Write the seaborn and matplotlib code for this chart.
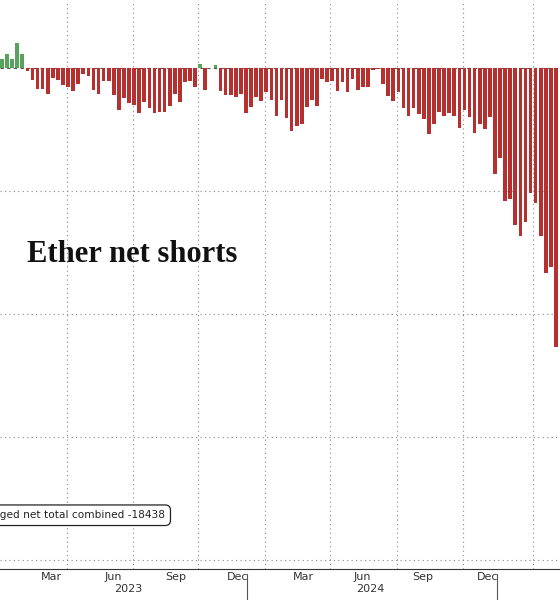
import numpy as np
import pandas as pd
import seaborn as sns
import matplotlib.pyplot as plt

# weekly leveraged net positions, thousands of contracts
values = [0.7, 1.1, 0.7, 2.0, 1.1,
          -0.3, -1.0, -1.7, -1.7, -2.1, -0.8, -1.0, -1.4, -1.6, -1.9,
          -1.3, -0.5, -0.7, -1.8, -2.1, -1.1, -1.1, -2.2, -3.4, -2.5,
          -2.9, -3.0, -3.7, -2.8, -3.3, -3.7, -3.6, -3.6, -3.1, -2.1,
          -2.8, -1.2, -1.1, -1.6, 0.3, -1.8, -0.05, 0.25, -1.9, -2.2,
          -2.2, -2.4, -2.1, -3.7, -3.2, -2.4, -2.7, -2.0, -2.6, -3.9,
          -2.6, -4.1, -5.1, -4.7, -4.6, -3.2, -2.6, -3.1, -0.9, -1.2,
          -1.1, -1.9, -1.2, -2.0, -0.9, -1.8, -1.6, -1.6, -0.15, -0.1,
          -1.3, -2.3, -2.7, -2.0, -3.3, -3.9, -3.3, -3.8, -4.2, -5.4,
          -4.6, -3.6, -3.9, -3.7, -3.9, -4.9, -3.4, -4.0, -5.3, -4.6,
          -5.0, -4.0, -8.6, -7.3, -10.8, -10.7, -12.8, -13.7, -12.5, -10.2,
          -11.0, -13.7, -16.7, -16.2, -22.7]

month_labels = ['Mar', 'Jun', 'Sep', 'Dec', 'Mar', 'Jun', 'Sep', 'Dec']
month_pos = [9.8, 21.9, 34.1, 46.3, 59.3, 70.9, 82.7, 95.5]
year_labels = ['2023', '2024']
year_pos = [24.8, 72.4]
year_breaks = [48.2, 97.4]
vgrid_pos = [12.8, 25.8, 38.6, 51.8, 64.6, 77.8, 90.7, 104.5]
hgrid_vals = [-10, -20, -30, -40]

df = pd.DataFrame({'week': np.arange(len(values)), 'net': values})
df['sign'] = np.where(df['net'] >= 0, 'long', 'short')

sns.set_style('white')
fig = plt.figure(figsize=(5.6, 6), dpi=100)
ax = fig.add_axes([0, 0.052, 1, 0.948])

sns.barplot(data=df, x='week', y='net', hue='sign', native_scale=True,
            palette={'long': '#4caf50', 'short': '#cc1a1a'}, width=0.72,
            dodge=False, legend=False, ax=ax, linewidth=0)

ax.set_xlim(-0.39, 109.8)
ax.set_ylim(-40.7, 5.5)
ax.axhline(0, color='#555555', lw=0.8, ls=(0, (3, 3)), zorder=0)
for v in hgrid_vals:
    ax.axhline(v, color='#888888', lw=0.8, ls=(0, (1, 3)), zorder=0)
for v in vgrid_pos:
    ax.axvline(v, color='#888888', lw=0.8, ls=(0, (1, 3)), zorder=0)

for s in ['top', 'right', 'left']:
    ax.spines[s].set_visible(False)
ax.spines['bottom'].set_color('#333333')
ax.set_yticks([])
ax.set_xlabel('')
ax.set_ylabel('')
ax.set_xticks(np.arange(year_breaks[0] - 4.1 * 11, 110, 4.1), minor=True)
ax.tick_params(axis='x', which='minor', length=3, color='#555555')
ax.set_xticks(month_pos)
ax.set_xticklabels(month_labels, fontsize=8, color='#333333')
ax.tick_params(axis='x', which='major', length=0, pad=2)
for p, lab in zip(year_pos, year_labels):
    ax.text(p, -0.045, lab, transform=ax.get_xaxis_transform(), ha='center',
            va='bottom', fontsize=8, color='#333333', clip_on=False)
for b in year_breaks:
    ax.plot([b, b], [-0.055, -0.01], transform=ax.get_xaxis_transform(),
            color='#555555', lw=0.8, clip_on=False)

ax.text(25 / 5.08, -15.8, 'Ether net shorts', fontsize=22, fontweight='bold',
        family='Liberation Serif', color='#111111')

ax.text(0.295, -36.35, 'Leveraged net total combined -18438', ha='right',
        va='center', fontsize=7.6, color='#222222',
        transform=ax.get_yaxis_transform(),
        bbox=dict(boxstyle='round,pad=0.5', fc='white', ec='#222222', lw=0.9))

fig.savefig('out.png', dpi=100)
